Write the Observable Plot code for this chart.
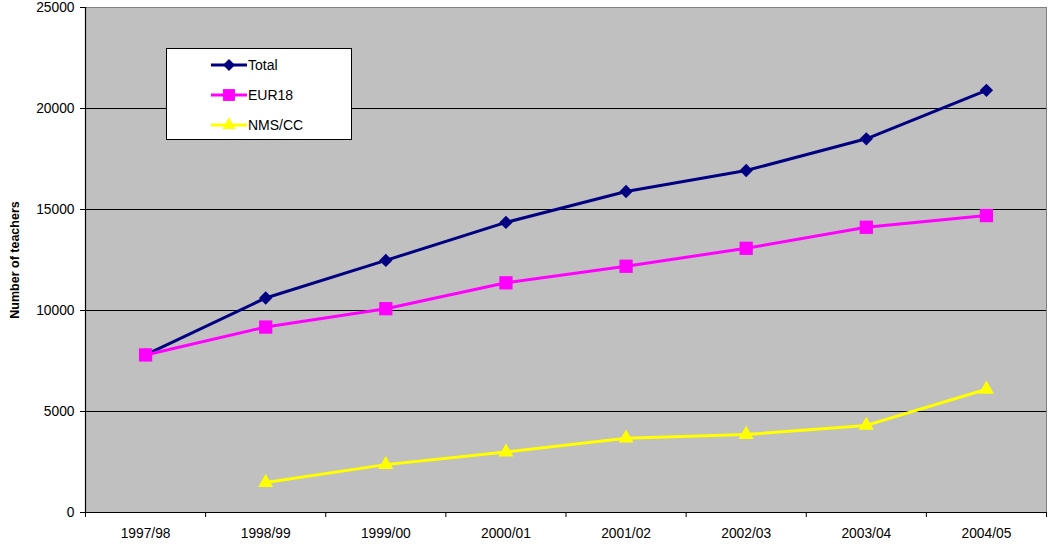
<!DOCTYPE html>
<html>
<head>
<meta charset="utf-8">
<script src="https://cdn.jsdelivr.net/npm/d3@7"></script>
<script src="https://cdn.jsdelivr.net/npm/@observablehq/plot@0.6"></script>
<style>
  html, body { margin: 0; padding: 0; background: #fff; }
  #wrap { position: relative; width: 1054px; height: 548px; font-family: "Liberation Sans", Arial, sans-serif; }
  #legend { position: absolute; left: 166px; top: 48px; width: 184px; height: 90px; background: #fff; border: 1px solid #000; }
</style>
</head>
<body>
<div id="wrap"></div>
<script>
const years = ["1997/98", "1998/99", "1999/00", "2000/01", "2001/02", "2002/03", "2003/04", "2004/05"];
const total = [7800, 10620, 12480, 14360, 15890, 16930, 18500, 20900];
const eur18 = [7800, 9180, 10090, 11370, 12190, 13080, 14120, 14700];
const nmscc = [null, 1480, 2370, 2990, 3680, 3860, 4310, 6100];
const seriesNames = ["Total", "EUR18", "NMS/CC"];
const seriesColors = ["#000080", "#FF00FF", "#FFFF00"];
const seriesSymbols = ["diamond2", "square", "triangle"];
const yTicks = [0, 5000, 10000, 15000, 20000, 25000];
const gridTicks = [5000, 10000, 15000, 20000];

const seriesValues = [total, eur18, nmscc];
const rows = [];
seriesValues.forEach((vals, s) => {
  vals.forEach((v, i) => {
    if (v != null) rows.push({series: seriesNames[s], idx: i + 0.5, value: v});
  });
});
const symR = {"Total": 6, "EUR18": 7.5, "NMS/CC": 5.6};

const marks = [
  Plot.frame({fill: "#C0C0C0", stroke: "#808080"}),
  Plot.ruleY(gridTicks, {stroke: "#000", strokeWidth: 1}),
  Plot.ruleX([0], {stroke: "#000", strokeWidth: 1.2}),
  Plot.ruleY([0], {stroke: "#000", strokeWidth: 1.2}),
  Plot.axisY({ticks: yTicks, tickSize: 5, tickPadding: 6, fontSize: 13.8, tickFormat: d => String(d),
    label: "Number of teachers", labelAnchor: "center", labelArrow: "none", labelOffset: 75}),
  Plot.axisX({ticks: d3.range(0, years.length + 1), tickSize: 5, tickFormat: () => "", label: null}),
  Plot.axisX({ticks: years.map((y, i) => i + 0.5), tickSize: 0, tickPadding: 16, fontSize: 13.8,
    tickFormat: d => years[Math.round(d - 0.5)], label: null})
];
seriesNames.forEach((name, s) => {
  const data = rows.filter(r => r.series === name);
  marks.push(Plot.line(data, {x: "idx", y: "value", stroke: seriesColors[s], strokeWidth: 3}));
  marks.push(Plot.dot(data, {x: "idx", y: "value", symbol: () => seriesSymbols[s], r: symR[name], fill: seriesColors[s], stroke: "none"}));
});

const chart = Plot.plot({
  width: 1054,
  height: 548,
  marginLeft: 85,
  marginRight: 8,
  marginTop: 7,
  marginBottom: 36,
  style: {fontFamily: "'Liberation Sans', Arial, sans-serif", color: "#000", background: "#fff"},
  x: {type: "linear", domain: [0, years.length], axis: null, label: null},
  y: {type: "linear", domain: [0, 25000], axis: null},
  symbol: {type: "identity"},
  marks
});
d3.select(chart).selectAll("[aria-label='y-axis label'] text, [aria-label='y-axis label']").style("font-weight", "bold").style("font-size", "12.5px");
const wrap = document.getElementById("wrap");
wrap.appendChild(chart);

// legend
const legend = document.createElement("div");
legend.id = "legend";
wrap.appendChild(legend);
const lsvg = d3.select(legend).append("svg").attr("width", 184).attr("height", 90);
const symMap = {"diamond2": d3.symbolDiamond2, "square": d3.symbolSquare, "triangle": d3.symbolTriangle};
seriesNames.forEach((name, s) => {
  const cy = 16 + s * 30;
  const g = lsvg.append("g");
  g.append("line").attr("x1", 44).attr("x2", 80).attr("y1", cy).attr("y2", cy)
    .attr("stroke", seriesColors[s]).attr("stroke-width", 3);
  g.append("path").attr("transform", `translate(62,${cy})`)
    .attr("d", d3.symbol(symMap[seriesSymbols[s]], Math.PI * symR[name] * symR[name] * 0.8)())
    .attr("fill", seriesColors[s]);
  g.append("text").attr("x", 81).attr("y", cy).attr("dy", "0.35em")
    .attr("font-size", 14).attr("font-family", "'Liberation Sans', Arial, sans-serif").text(name);
});
</script>
</body>
</html>
